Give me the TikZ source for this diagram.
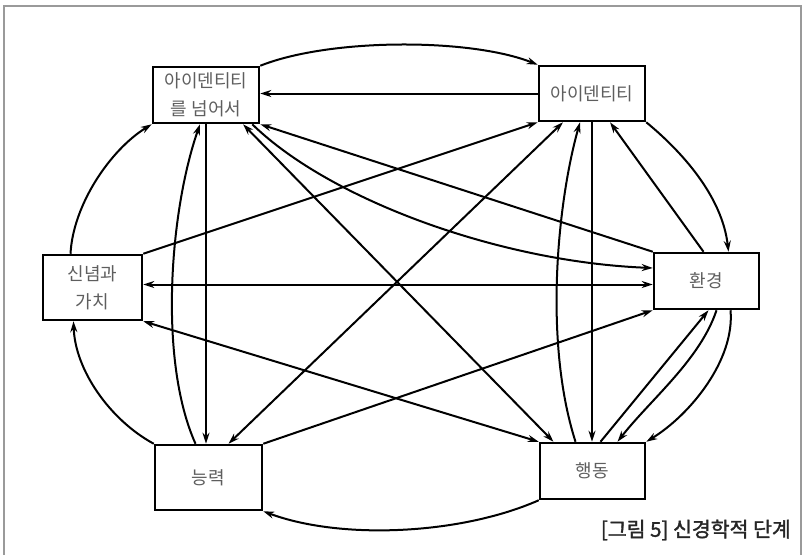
\documentclass[tikz,border=0pt]{standalone}
\usepackage{fontspec}
\setmainfont{Noto Sans CJK KR}
\newfontfamily\capfont[FakeBold=1.6]{Noto Sans CJK KR}
\usetikzlibrary{arrows.meta}
\definecolor{txtgray}{HTML}{5E5E5E}
\definecolor{framegray}{HTML}{9A9A9A}
\tikzset{
  lvl/.style={draw=black, line width=2.5pt, fill=white, rectangle, align=center,
    font=\fontsize{18}{28}\selectfont, text=txtgray, inner sep=0pt},
  conn/.style={line width=2pt, black},
  tipend/.style={conn, -{Stealth[length=11pt,width=7pt]}},
  tipstart/.style={conn, {Stealth[length=11pt,width=7pt]}-},
  tipboth/.style={conn, {Stealth[length=11pt,width=7pt]}-{Stealth[length=11pt,width=7pt]}},
}
\begin{document}
\begin{tikzpicture}[x=1pt,y=-1pt]
\useasboundingbox (0,0) rectangle (805,554);
\fill[white] (0,0) rectangle (805,554);
\draw[framegray, line width=2pt] (4,570) -- (4,6) -- (801,6) -- (801,570);

% nodes
\node[lvl, minimum width=106pt, minimum height=56pt] (BI) at (206,95) {아이덴티티\\를 넘어서};
\node[lvl, minimum width=106pt, minimum height=55pt] (ID) at (592,93.5) {아이덴티티};
\node[lvl, minimum width=99pt, minimum height=65pt] (BV) at (92.5,287.5) {신념과\\가치};
\node[lvl, minimum width=105pt, minimum height=56pt] (EN) at (706.5,281) {환경};
\node[lvl, minimum width=107pt, minimum height=65pt] (CA) at (208.5,477.5) {능력};
\node[lvl, minimum width=105pt, minimum height=56pt] (BE) at (592.5,471) {행동};

% caption
\node[anchor=east, font=\capfont\fontsize{20.5}{22}\selectfont, text=black!85, inner sep=0pt] (cap) at (791,530) {[그림 5] 신경학적 단계};

% connectors
\draw[tipend] (BI.north east) .. controls (330,38) and (470,38) .. (ID.north west);
\draw[tipend] (ID.west) -- (ID.west -| BI.east);
\draw[tipend] ([xshift=-22pt]BV.north) .. controls (73,205) and (110,150) .. (BI.south west);
\draw[tipend] ([xshift=-13pt]CA.north) .. controls (158,360) and (170,210) .. ([xshift=-6pt]BI.south);
\draw[tipend] (BI.south) -- (BI.south |- CA.north);
\draw[tipboth] ([xshift=37pt]BI.south) -- ([xshift=-39pt]BE.north);
\draw[tipstart] (BI.south east) -- (EN.north west);
\draw[tipend] ([xshift=-8pt]BI.south east) .. controls (330,200) and (500,262) .. ([yshift=13pt]EN.west);
\draw[tipend] (BV.north east) -- (ID.south west);
\draw[tipboth] ([xshift=20pt]CA.north) -- ([xshift=-29pt]ID.south);
\draw[tipend] (ID.south east) .. controls (680,150) and (722,195) .. ([xshift=22pt]EN.north);
\draw[tipend] ([xshift=-3pt]EN.north) -- ([xshift=18pt]ID.south);
\draw[tipend] (ID.south) -- (ID.south |- BE.north);
\draw[tipend] ([xshift=-17pt]BE.north) .. controls (543,340) and (558,200) .. ([xshift=-12pt]ID.south);
\draw[tipboth] ([yshift=3pt]BV.east) -- ([yshift=3pt]BV.east -| EN.west);
\draw[tipboth] (BV.south east) -- (BE.north west);
\draw[tipend] (CA.north west) .. controls (110,420) and (75,370) .. ([xshift=-19pt]BV.south);
\draw[tipend] (CA.north east) -- (EN.south west);
\draw[tipend] (BE.south west) .. controls (460,535) and (340,540) .. (CA.south east);
\draw[tipend] ([xshift=8pt]BE.north) -- ([xshift=2pt]EN.south);
\draw[tipend] ([xshift=10pt]EN.south) .. controls (700,360) and (650,400) .. ([xshift=25pt]BE.north);
\draw[tipend] ([xshift=24pt]EN.south) .. controls (735,360) and (690,415) .. (BE.north east);
\end{tikzpicture}
\end{document}
